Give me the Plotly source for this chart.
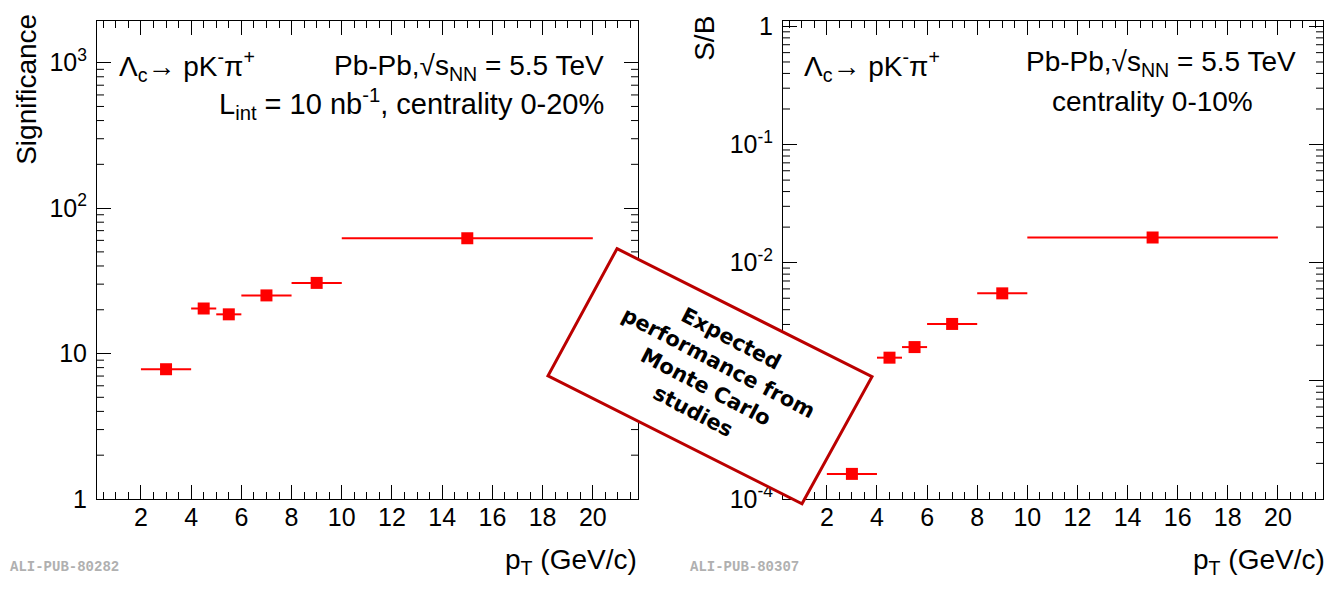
import math
import plotly.graph_objects as go

W, H = 1335, 589

# ---- data ----
bin_lo = [2, 4, 5, 6, 8, 10]
bin_hi = [4, 5, 6, 8, 10, 20]
pt_center = [3, 4.5, 5.5, 7, 9, 15]
significance = [7.8, 20.4, 18.6, 25.1, 30.6, 62.0]
s_over_b = [1.63e-4, 1.57e-3, 1.93e-3, 3.03e-3, 5.5e-3, 1.63e-2]

x_ticks = [2, 4, 6, 8, 10, 12, 14, 16, 18, 20]
sig_tickvals = [1, 10, 100, 1000]
sig_ticktext = ["1", "10", "10<sup>2</sup>", "10<sup>3</sup>"]
sb_tickvals = [1e-4, 1e-3, 1e-2, 1e-1, 1]
sb_ticktext = ["10<sup>-4</sup>", "10<sup>-3</sup>", "10<sup>-2</sup>", "10<sup>-1</sup>", "1"]

half_w = [(h - l) / 2 for l, h in zip(bin_lo, bin_hi)]

RED = "#ff0000"
FONT = "Liberation Sans, Arial, sans-serif"
SIG_RANGE = [0, 3.29]
SB_RANGE = [-4, 0.05]
X_RANGE = [0.25, 21.8]


def px(x):
    return x / W


def py(y):
    return 1 - y / H


fig = go.Figure()

for yvals, xa, ya in [(significance, "x", "y"), (s_over_b, "x2", "y2")]:
    fig.add_trace(go.Scatter(
        x=pt_center, y=yvals, xaxis=xa, yaxis=ya, mode="markers",
        marker=dict(symbol="square", size=12, color=RED),
        error_x=dict(type="data", array=half_w, symmetric=True, width=0,
                     color=RED, thickness=2),
        showlegend=False,
    ))

ydom = [py(510), py(13)]
xdom1 = [px(97), px(638)]
xdom2 = [px(783), px(1323)]
common_x = dict(range=X_RANGE, tickvals=x_ticks, ticks="inside", ticklen=14,
                tickwidth=1, tickcolor="black", showline=True, linecolor="black",
                linewidth=1, mirror="allticks", showgrid=False, zeroline=False,
                tickfont=dict(family=FONT, size=25, color="black"),
                minor=dict(dtick=0.5, ticks="inside", ticklen=7, tickcolor="black",
                           showgrid=False),
                ticklabelstandoff=-4)
common_y = dict(type="log", ticks="inside", ticklen=14, tickwidth=1, tickcolor="black",
                showline=True, linecolor="black", linewidth=1, mirror="allticks",
                showgrid=False, zeroline=False,
                tickfont=dict(family=FONT, size=25, color="black"),
                ticklabelstandoff=4)

fig.update_layout(
    width=W, height=H, margin=dict(l=0, r=0, t=0, b=0),
    paper_bgcolor="white", plot_bgcolor="white",
    xaxis=dict(domain=xdom1, anchor="y", **common_x),
    yaxis=dict(domain=ydom, anchor="x", range=SIG_RANGE, tickvals=sig_tickvals,
               ticktext=sig_ticktext, **common_y),
    xaxis2=dict(domain=xdom2, anchor="y2", **common_x),
    yaxis2=dict(domain=ydom, anchor="x2", range=SB_RANGE, tickvals=sb_tickvals,
                ticktext=sb_ticktext, **common_y),
)

# sub-decade (2..9) minor ticks of the log axes, placed on the axis scale
for xname, yname, rng, xdom in [("x", "y", SIG_RANGE, xdom1), ("x2", "y2", SB_RANGE, xdom2)]:
    frac = 7.0 / ((xdom[1] - xdom[0]) * W)
    for k in range(math.floor(rng[0]), math.ceil(rng[1]) + 1):
        for m in range(2, 10):
            f = (math.log10(m * 10.0 ** k) - rng[0]) / (rng[1] - rng[0])
            if 0 < f < 1:
                for a, b in [(0, frac), (1 - frac, 1)]:
                    fig.add_shape(type="line", xref=f"{xname} domain",
                                  yref=f"{yname} domain", x0=a, x1=b, y0=f, y1=f,
                                  line=dict(color="black", width=1), layer="above")

tf = dict(family=FONT, size=28, color="black")
ann = []
# axis titles
ann.append(dict(text="Significance", x=px(27), y=py(85), xref="paper", yref="paper",
                textangle=-90, xanchor="center", yanchor="middle", showarrow=False, font=tf))
ann.append(dict(text="S/B", x=px(705), y=py(32), xref="paper", yref="paper",
                textangle=-90, xanchor="center", yanchor="middle", showarrow=False, font=tf))
ann.append(dict(text="p<sub>T</sub> (GeV/c)", x=px(639), y=py(575), xref="paper",
                yref="paper", xanchor="right", yanchor="middle", showarrow=False, font=tf))
ann.append(dict(text="p<sub>T</sub> (GeV/c)", x=px(1327), y=py(575), xref="paper",
                yref="paper", xanchor="right", yanchor="middle", showarrow=False, font=tf))
# panel labels
for x0 in (117, 802):
    ann.append(dict(text="Λ<sub>c</sub>→ pK<sup>-</sup>π<sup>+</sup>", x=px(x0), y=py(60),
                    xref="paper", yref="paper", xanchor="left", yanchor="middle",
                    showarrow=False, font=tf))
ann.append(dict(text="Pb-Pb,√s<sub>NN</sub> = 5.5 TeV", x=px(606), y=py(62), xref="paper",
                yref="paper", xanchor="right", yanchor="middle", showarrow=False, font=tf))
ann.append(dict(text="L<sub>int</sub> = 10 nb<sup>-1</sup>, centrality 0-20%", x=px(606),
                y=py(100), xref="paper", yref="paper", xanchor="right", yanchor="middle",
                showarrow=False, font=dict(family=FONT, size=29, color="black")))
ann.append(dict(text="Pb-Pb,√s<sub>NN</sub> = 5.5 TeV", x=px(1298), y=py(58), xref="paper",
                yref="paper", xanchor="right", yanchor="middle", showarrow=False, font=tf))
ann.append(dict(text="centrality 0-10%", x=px(1152), y=py(97), xref="paper",
                yref="paper", xanchor="center", yanchor="middle", showarrow=False, font=tf))
# watermarks
wf = dict(family="Liberation Mono, monospace", size=14, color="#b0b0b0")
ann.append(dict(text="<b>ALI-PUB-80282</b>", x=px(8), y=py(581), xref="paper", yref="paper",
                xanchor="left", yanchor="middle", showarrow=False, font=wf))
ann.append(dict(text="<b>ALI-PUB-80307</b>", x=px(688), y=py(581), xref="paper",
                yref="paper", xanchor="left", yanchor="middle", showarrow=False, font=wf))
# stamp text
ann.append(dict(text="<b>Expected<br>performance from<br>Monte Carlo<br>studies</b>",
                x=px(712), y=py(381), xref="paper", yref="paper", xanchor="center",
                yanchor="middle", textangle=27.6, showarrow=False, align="center",
                font=dict(family="DejaVu Sans, sans-serif", size=21, color="black")))
fig.update_layout(annotations=ann)

corners = [(617, 250), (872, 383), (802, 515), (548, 382)]
path = "M " + " L ".join(f"{px(x):.5f},{py(y):.5f}" for x, y in corners) + " Z"
fig.add_shape(type="path", path=path, xref="paper", yref="paper", layer="above",
              line=dict(color="#bb0000", width=3), fillcolor="white")

post = (
    "document.documentElement.style.margin='0px';"
    "document.body.style.margin='0px';"
    "document.documentElement.style.overflow='hidden';"
    "document.body.style.overflow='hidden';"
    "var d=document.getElementById('{plot_id}');"
    "d.style.position='fixed';d.style.left='0px';d.style.top='0px';"
    "var iw=window.innerWidth, ih=window.innerHeight;"
    "if(iw>0&&ih>0&&(iw!==%d||ih!==%d)){"
    "d.style.width=iw+'px';d.style.height=ih+'px';"
    "Plotly.relayout(d,{width:iw,height:ih});}" % (W, H)
)
fig.write_html("out.html", config={"displayModeBar": False}, post_script=post)
